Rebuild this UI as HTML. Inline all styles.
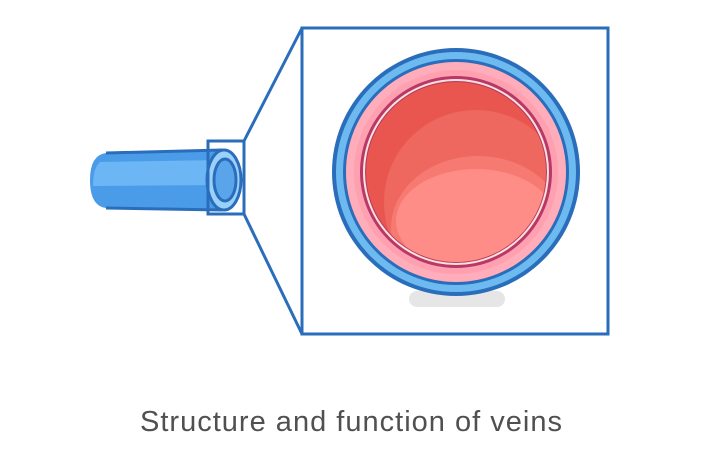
<!DOCTYPE html>
<html><head><style>
body{margin:0;width:710px;height:464px;background:#fff;overflow:hidden}
</style></head><body>
<svg width="710" height="464" viewBox="0 0 710 464" style="position:absolute;left:0;top:0">
<defs><clipPath id="c"><circle cx="456" cy="172" r="90"/></clipPath></defs>
<!-- tube -->
<path d="M106 153 L222 150 L222 210 L106 208 Q90 206 90 180 Q90 155 106 153Z" fill="#4a9be8"/>
<path d="M100 162 L222 160 L222 185 L93 186 Q93 168 100 162Z" fill="#6cb6f5"/>
<path d="M106 153 L222 150" stroke="#2a6ebb" stroke-width="3" fill="none"/>
<path d="M106 208 L222 210" stroke="#2a6ebb" stroke-width="3" fill="none"/>
<ellipse cx="224" cy="180" rx="17" ry="30" fill="#9bd0fa" stroke="#2a6ebb" stroke-width="3"/>
<ellipse cx="225" cy="180" rx="11" ry="21" fill="#5aa4ea" stroke="#2a6ebb" stroke-width="3"/>
<!-- zoom box -->
<rect x="208" y="141" width="36" height="73" fill="none" stroke="#2a6ebb" stroke-width="3"/>
<path d="M244 141 L302 28 M244 214 L302 334" stroke="#2a6ebb" stroke-width="3"/>
<rect x="302" y="28" width="306" height="306" fill="#fff" stroke="#2a6ebb" stroke-width="3"/>
<!-- cross section -->
<rect x="409" y="291" width="96" height="16" rx="8" fill="#e6e6e6"/>
<circle cx="456" cy="172" r="124" fill="#2a6ebb"/>
<circle cx="456" cy="172" r="120" fill="#6cbaf0"/>
<circle cx="456" cy="172" r="113" fill="#2a6ebb"/>
<circle cx="456" cy="172" r="110" fill="#ffadbb"/>
<circle cx="456" cy="172" r="102" fill="#ffa0b0"/>
<circle cx="456" cy="172" r="96" fill="#b8386a"/>
<circle cx="456" cy="172" r="93" fill="#fde3d6"/>
<circle cx="456" cy="172" r="91" fill="#b8386a"/>
<g clip-path="url(#c)">
<circle cx="456" cy="172" r="90" fill="#e9564f"/>
<ellipse cx="476" cy="202" rx="92" ry="92" fill="#ee6860"/>
<ellipse cx="478" cy="228" rx="87" ry="72" fill="#f77a72"/>
<ellipse cx="476" cy="221" rx="80" ry="52" fill="#fd8d86"/>
</g>
<text x="351" y="431" text-anchor="middle" font-family="Liberation Sans, sans-serif" font-size="29" fill="#505050" textLength="422">Structure and function of veins</text>
</svg>
</body></html>
